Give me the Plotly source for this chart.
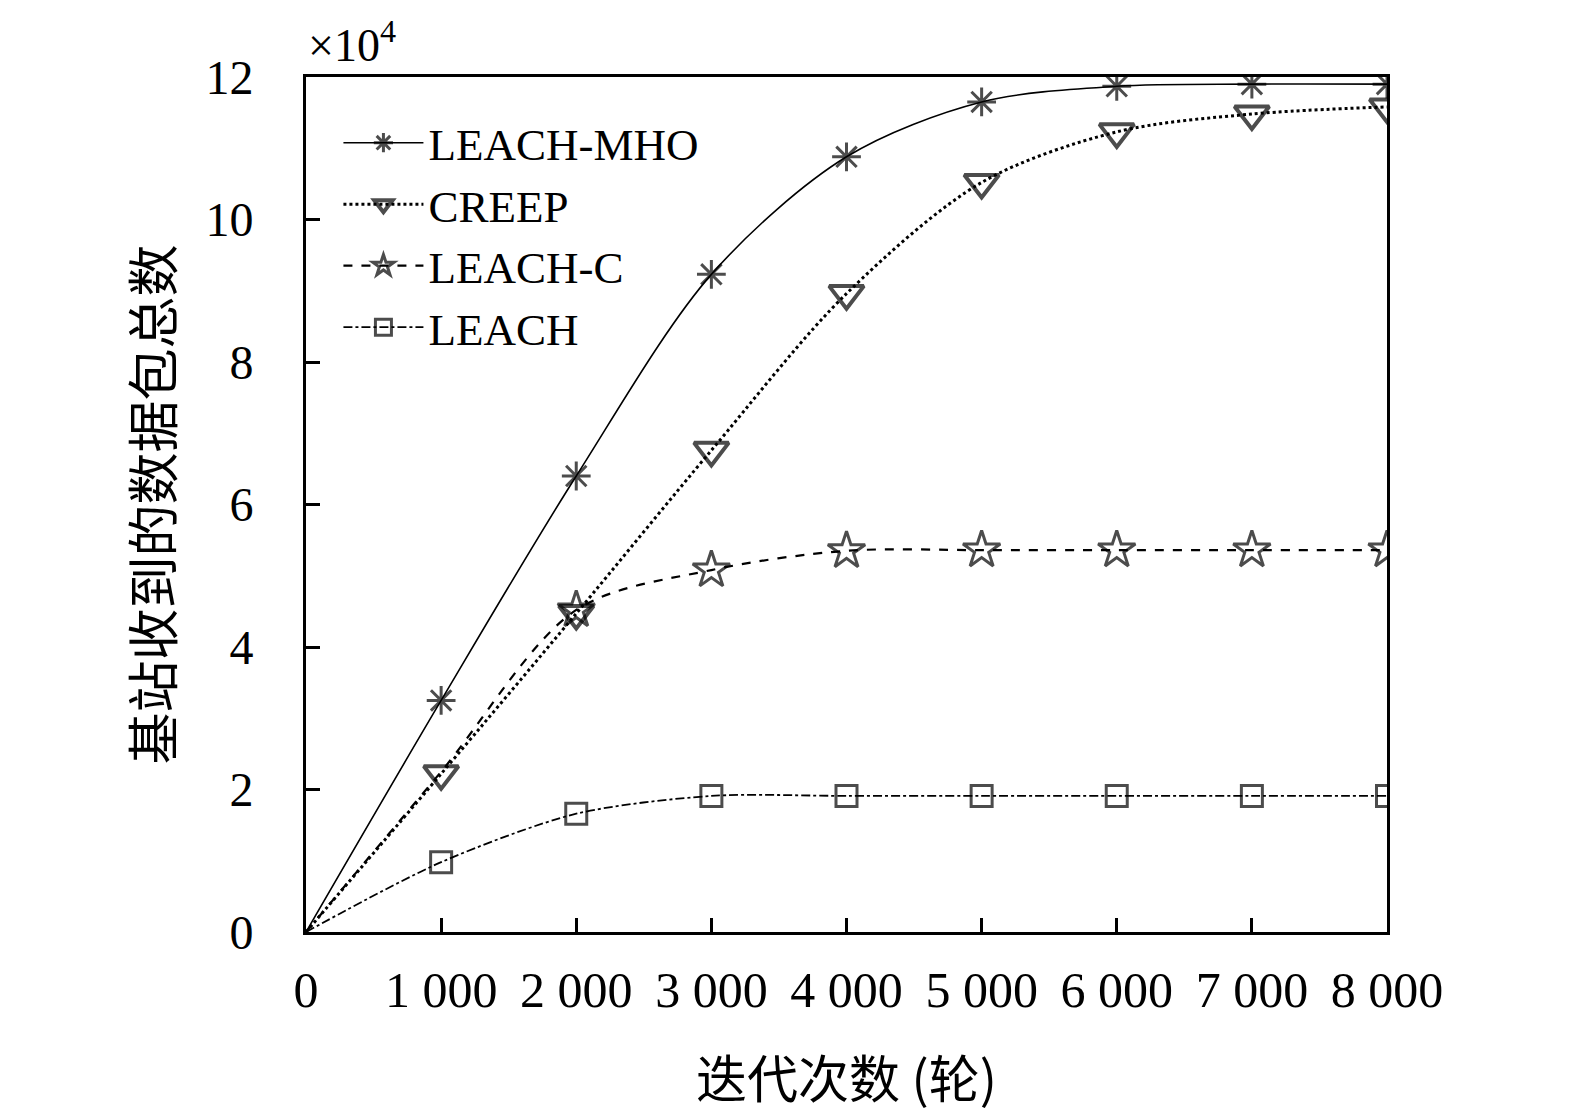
import plotly.graph_objects as go

rounds = [0, 1000, 2000, 3000, 4000, 5000, 6000, 7000, 8000]
leach_mho = [0, 3.25, 6.40, 9.23, 10.88, 11.65, 11.87, 11.90, 11.90]
creep = [0, 2.22, 4.47, 6.76, 8.96, 10.52, 11.23, 11.48, 11.58]
leach_c = [0, 2.25, 4.52, 5.08, 5.35, 5.36, 5.36, 5.36, 5.36]
leach = [0, 0.98, 1.66, 1.91, 1.91, 1.91, 1.91, 1.91, 1.91]

x_tickvals = [0, 1000, 2000, 3000, 4000, 5000, 6000, 7000, 8000]
x_ticktext = ["0", "1 000", "2 000", "3 000", "4 000", "5 000", "6 000", "7 000", "8 000"]
y_tickvals = [0, 2, 4, 6, 8, 10, 12]
y_ticktext = ["0", "2", "4", "6", "8", "10", "12"]

FONT = "Liberation Serif, Times New Roman, Noto Sans CJK SC, serif"
CJK = "Noto Sans CJK SC, Liberation Serif, serif"
BLACK = "#000000"

def sizes(base, hide):
    return [0 if i in hide else base for i in range(len(rounds))]

fig = go.Figure()
fig.add_trace(go.Scatter(
    x=rounds, y=leach_mho, name="LEACH-MHO", mode="lines+markers",
    line=dict(color=BLACK, width=1.6, shape="spline", smoothing=0.9),
    marker=dict(symbol="asterisk-open", size=sizes(24, {0}), color=BLACK,
                line=dict(color=BLACK, width=3))))
fig.add_trace(go.Scatter(
    x=rounds, y=creep, name="CREEP", mode="lines+markers",
    line=dict(color=BLACK, width=3, dash="dot", shape="spline", smoothing=0.9),
    marker=dict(symbol="triangle-down-open", size=sizes(30, {0}), color=BLACK,
                line=dict(color=BLACK, width=4))))
fig.add_trace(go.Scatter(
    x=rounds, y=leach_c, name="LEACH-C", mode="lines+markers",
    line=dict(color=BLACK, width=2.2, dash="dash", shape="spline", smoothing=0.9),
    marker=dict(symbol="star-open", size=sizes(28, {0, 1}), color=BLACK,
                line=dict(color=BLACK, width=3))))
fig.add_trace(go.Scatter(
    x=rounds, y=leach, name="LEACH", mode="lines+markers",
    line=dict(color=BLACK, width=1.8, dash="dashdot", shape="spline", smoothing=0.8),
    marker=dict(symbol="square-open", size=sizes(21, {0}), color=BLACK,
                line=dict(color=BLACK, width=3))))

fig.update_layout(
    width=1575, height=1113,
    margin=dict(l=298, r=196, t=69, b=189),
    paper_bgcolor="white", plot_bgcolor="white",
    font=dict(family=FONT, color=BLACK, size=46),
    showlegend=True,
    legend=dict(x=0.03, y=0.965, xanchor="left", yanchor="top",
                bgcolor="rgba(0,0,0,0)", font=dict(family=FONT, size=45),
                itemwidth=80, tracegroupgap=0),
    xaxis=dict(range=[0, 8000], tickvals=x_tickvals, ticktext=x_ticktext,
               ticks="inside", ticklen=14, tickwidth=3, tickcolor=BLACK,
               showline=True, linecolor=BLACK, linewidth=3, mirror=True,
               showgrid=False, zeroline=False, ticklabelstandoff=12,
               tickfont=dict(family=FONT, size=50),
               title=dict(text="迭代次数 (轮)", font=dict(family=CJK, size=51), standoff=46)),
    yaxis=dict(range=[0, 12], tickvals=y_tickvals, ticktext=y_ticktext,
               ticks="inside", ticklen=14, tickwidth=3, tickcolor=BLACK,
               showline=True, linecolor=BLACK, linewidth=3, mirror=True,
               showgrid=False, zeroline=False, ticklabelstandoff=40,
               tickfont=dict(family=FONT, size=48),
               title=dict(text="基站收到的数据包总数", font=dict(family=CJK, size=52), standoff=16)),
    annotations=[dict(text="×10<sup>4</sup>", xref="paper", yref="paper",
                      x=0.0, y=1.0, xanchor="left", yanchor="bottom", yshift=4,
                      showarrow=False, font=dict(family=FONT, size=46))],
)

fig.write_html("out.html")
